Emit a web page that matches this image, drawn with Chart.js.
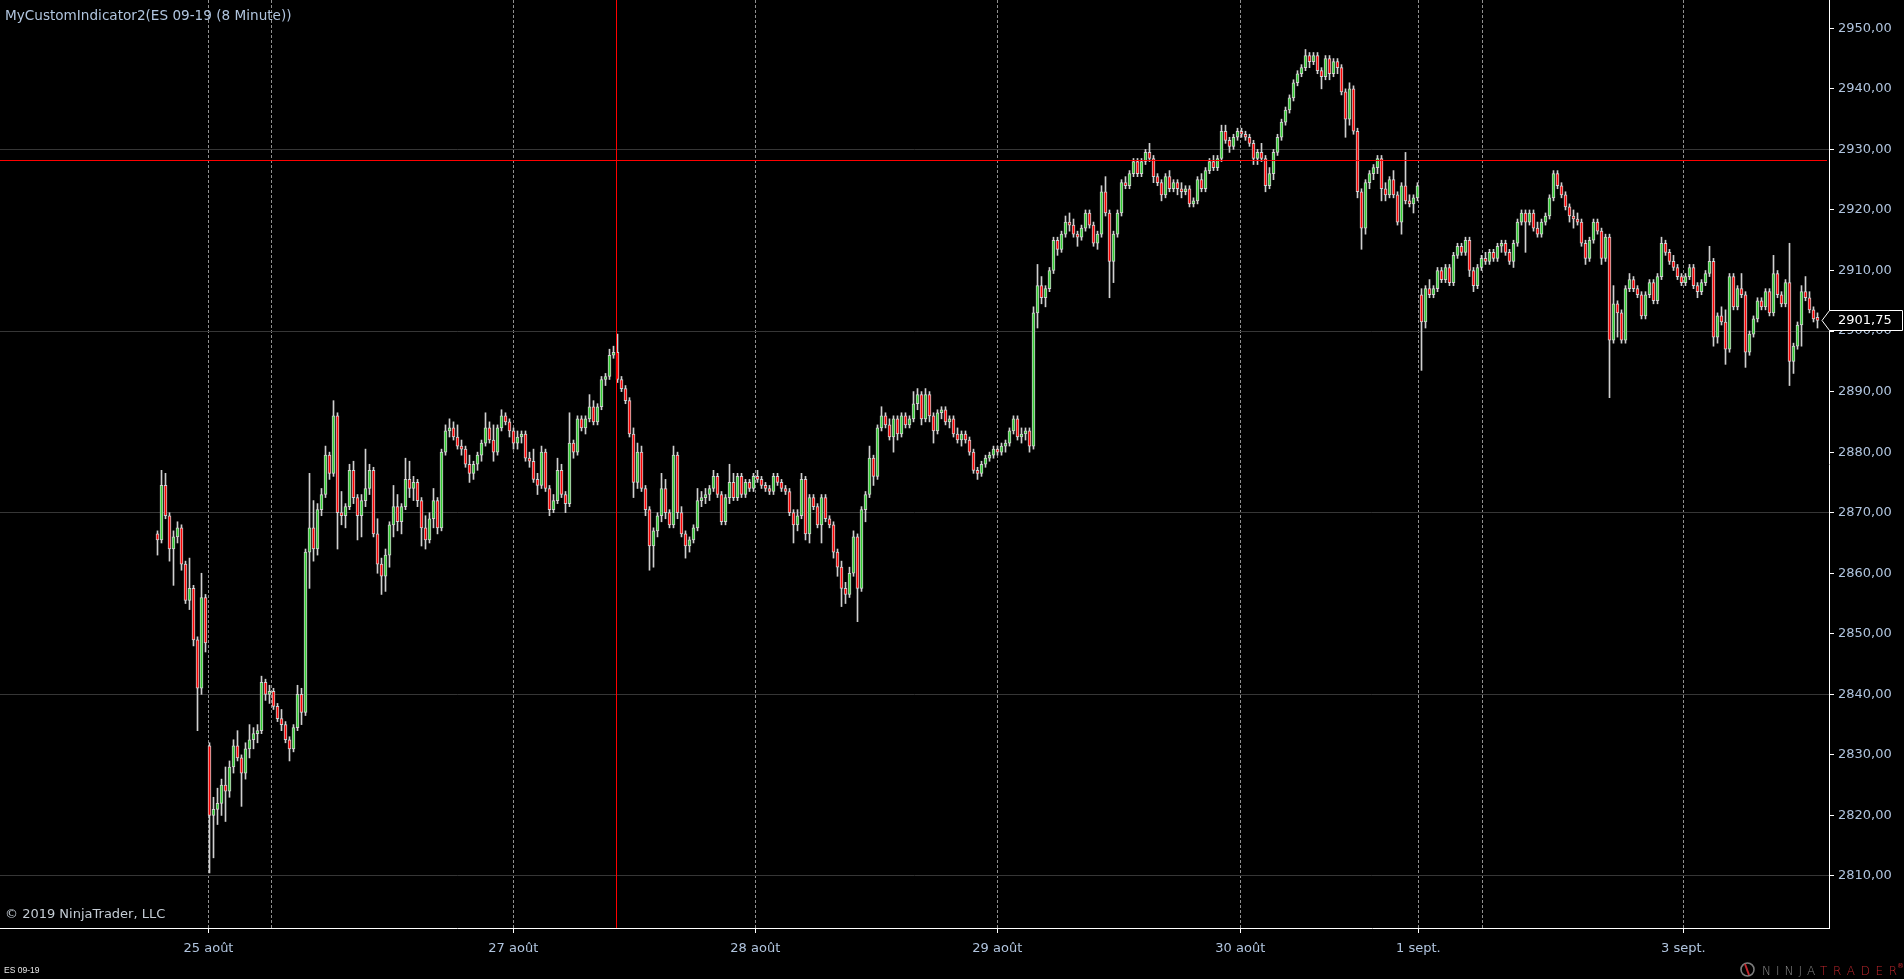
<!DOCTYPE html>
<html>
<head>
<meta charset="utf-8">
<title>MyCustomIndicator2(ES 09-19 (8 Minute))</title>
<script src="https://cdn.jsdelivr.net/npm/chart.js@4.4.1/dist/chart.umd.min.js"></script>
<style>
  html, body { margin: 0; padding: 0; background: #000; overflow: hidden; }
  #myChart { display: block; background: #000; }
</style>
</head>
<body>
<canvas id="myChart" width="1904" height="979"></canvas>
<script>
/* ES 09-19, 8 minute candles */
const opens = [
  2866.5, 2865.5, 2874.5, 2869.5, 2864, 2866, 2867.5, 2861.5, 2855.5, 2857.5,
  2849, 2841, 2856, 2831.5, 2820, 2821, 2822, 2825, 2824, 2828,
  2831.5, 2829.5, 2827, 2831, 2832.5, 2833.5, 2834, 2842, 2840, 2840.5,
  2838, 2836, 2835, 2832.5, 2831, 2834.5, 2840, 2837, 2863.5, 2867.5,
  2864, 2870.5, 2873, 2879.5, 2876.5, 2886, 2870, 2869.5, 2871, 2877,
  2872.5, 2869.5, 2872, 2874, 2877, 2866.5, 2861.5, 2859.5, 2863, 2868,
  2871, 2868.5, 2871, 2875.5, 2874, 2875, 2872, 2867.5, 2865.5, 2869,
  2872, 2867.5, 2880, 2883.5, 2884, 2882.5, 2881, 2880.5, 2878, 2876.5,
  2878, 2879.5, 2881.5, 2884, 2882, 2880, 2884, 2886, 2885, 2883.5,
  2881.5, 2882.5, 2883, 2879, 2878.5, 2875.5, 2874.5, 2880, 2874, 2870.5,
  2872, 2877, 2873, 2871.5, 2881.5, 2880, 2885.5, 2884, 2885.5, 2887.5,
  2885, 2887.5, 2892, 2892.5, 2896, 2896.5, 2892, 2890.5, 2888.5, 2883,
  2875, 2880, 2874, 2870.5, 2864.5, 2867, 2869.5, 2874, 2870, 2868,
  2879.5, 2870, 2866.5, 2864.5, 2865.5, 2867.5, 2872, 2872.5, 2873, 2874,
  2876, 2873, 2868.5, 2872.5, 2875, 2872.5, 2876, 2873, 2875, 2874,
  2876, 2875.5, 2874.5, 2874, 2873.5, 2876, 2875, 2874, 2873.5, 2870,
  2868, 2869.5, 2875.5, 2866.5, 2872.5, 2871, 2868, 2872.5, 2869, 2868,
  2863.5, 2861, 2857.5, 2856.5, 2860, 2866, 2857.5, 2870.5, 2873, 2879,
  2876, 2884, 2886, 2884.5, 2882.5, 2885.5, 2883, 2886, 2884.5, 2885.5,
  2888, 2889.5, 2885.5, 2889.5, 2886, 2883.5, 2886.5, 2887, 2885, 2885.5,
  2883, 2882, 2883, 2882, 2880, 2877, 2876.5, 2878, 2879, 2879.5,
  2880.5, 2880, 2881, 2881.5, 2883.5, 2885.5, 2882.5, 2883, 2883.5, 2881,
  2903, 2907.5, 2905.5, 2907, 2910, 2915, 2913.5, 2916, 2918, 2917.5,
  2916, 2915.5, 2917, 2919.5, 2917.5, 2914.5, 2916, 2923, 2919.5, 2911.5,
  2916, 2919.5, 2924.5, 2924, 2926, 2928, 2926, 2928, 2929.5, 2928.5,
  2925.5, 2924.5, 2922.5, 2925.5, 2923.5, 2924.5, 2923.5, 2923, 2923.5, 2921,
  2921.5, 2925, 2923.5, 2926.5, 2928, 2927, 2928.5, 2933, 2931.5, 2930.5,
  2932, 2933, 2932.5, 2932, 2931, 2928.5, 2929.5, 2928.5, 2924, 2926,
  2929.5, 2932, 2934.5, 2936.5, 2938.5, 2941, 2942.5, 2943.5, 2945.5, 2944.5,
  2945.5, 2943, 2942, 2945, 2942.5, 2944.5, 2943.5, 2939.5, 2935, 2940,
  2933, 2923, 2917, 2924.5, 2926, 2927, 2928.5, 2923.5, 2922.5, 2925,
  2922.5, 2918, 2924, 2921.5, 2921, 2922, 2906, 2901.5, 2907, 2906,
  2907, 2910, 2908.5, 2910.5, 2908, 2912.5, 2914, 2913, 2915, 2910,
  2907.5, 2910.5, 2912, 2911.5, 2913, 2912, 2914, 2914.5, 2913, 2911.5,
  2914.5, 2918, 2919.5, 2918, 2919.5, 2917, 2916, 2918, 2919, 2922,
  2926, 2924, 2922.5, 2920.5, 2919, 2918.5, 2918, 2914.5, 2912, 2915,
  2918, 2916.5, 2912, 2915.5, 2898.5, 2904.5, 2903, 2898.5, 2907, 2908.5,
  2907, 2906, 2902.5, 2906, 2908, 2905, 2909, 2914.5, 2913, 2911.5,
  2910.5, 2909, 2908, 2909, 2910.5, 2907.5, 2906.5, 2908, 2909.5, 2911.5,
  2899, 2902.5, 2901.5, 2897, 2909, 2904, 2907, 2906, 2896.5, 2899.5,
  2902, 2905, 2904, 2906.5, 2903, 2909.5, 2906, 2904.5, 2908, 2895,
  2897.5, 2901, 2906.5, 2905.5, 2903.5, 2902
];
const highs = [
  2867, 2877, 2876.5, 2870, 2867, 2868.5, 2868, 2862, 2862.5, 2858,
  2849.5, 2860, 2856.5, 2832, 2823, 2824.5, 2826, 2828, 2829, 2832.5,
  2834, 2830, 2832, 2835, 2834.5, 2835, 2843, 2842.5, 2841.5, 2841,
  2838.5, 2837.5, 2835.5, 2833, 2835, 2841.5, 2841, 2864, 2876.5, 2872,
  2871.5, 2874, 2881, 2880, 2888.5, 2886.5, 2873.5, 2871.5, 2878, 2878.5,
  2873, 2873, 2880.5, 2878, 2877.5, 2869, 2862.5, 2864, 2868.5, 2874.5,
  2873, 2871.5, 2879, 2878.5, 2876, 2875.5, 2872.5, 2869.5, 2870, 2874,
  2872.5, 2880.5, 2884.5, 2885.5, 2885, 2884.5, 2882, 2881, 2879.5, 2878.5,
  2880, 2882, 2886.5, 2885, 2884.5, 2884.5, 2887, 2886.5, 2885.5, 2884,
  2883.5, 2883.5, 2883.5, 2880, 2880.5, 2876.5, 2881, 2880.5, 2874.5, 2873,
  2879, 2878, 2873.5, 2886.5, 2882, 2886, 2886, 2886, 2889.5, 2888.5,
  2888, 2892.5, 2893, 2897, 2897.5, 2899.5, 2892.5, 2891, 2889, 2884,
  2881.5, 2881, 2874.5, 2871, 2867.5, 2870, 2876.5, 2875.5, 2870.5, 2881,
  2880, 2871, 2867, 2866, 2868, 2874, 2873.5, 2874, 2874.5, 2877,
  2876.5, 2873.5, 2873, 2878, 2876.5, 2876.5, 2876.5, 2875.5, 2875.5, 2876.5,
  2877, 2876, 2875, 2874.5, 2876.5, 2876.5, 2875.5, 2874.5, 2874, 2870.5,
  2870.5, 2876.5, 2876, 2873, 2873, 2871.5, 2873, 2873, 2869.5, 2868.5,
  2864, 2862, 2858.5, 2861, 2867, 2866.5, 2871, 2873.5, 2881, 2879.5,
  2884.5, 2887.5, 2886.5, 2885.5, 2886, 2886, 2886.5, 2886.5, 2886, 2890,
  2890.5, 2890, 2890.5, 2890, 2886.5, 2887, 2887.5, 2887.5, 2886, 2886,
  2884, 2883.5, 2883.5, 2882.5, 2880.5, 2877.5, 2878.5, 2879.5, 2880, 2881,
  2881, 2881.5, 2882, 2884, 2886, 2886, 2884, 2884, 2884, 2904,
  2911, 2909, 2907.5, 2910.5, 2915.5, 2915.5, 2916.5, 2919, 2919.5, 2918.5,
  2916.5, 2917.5, 2920, 2920, 2918, 2916.5, 2924, 2925.5, 2920, 2916.5,
  2920, 2925, 2925.5, 2926.5, 2928.5, 2928.5, 2928.5, 2930, 2931, 2929,
  2926, 2925, 2926, 2926.5, 2925, 2925, 2924.5, 2924, 2924, 2922,
  2925.5, 2926, 2927, 2928.5, 2929, 2929, 2934, 2934, 2932, 2932.5,
  2933.5, 2933.5, 2933, 2932.5, 2931.5, 2930, 2931, 2929, 2927, 2930,
  2932.5, 2935, 2937, 2939, 2941.5, 2943, 2944, 2946.5, 2946, 2946,
  2946, 2943.5, 2945.5, 2945.5, 2945, 2945, 2944, 2940, 2941, 2940.5,
  2933.5, 2923.5, 2925, 2926.5, 2927.5, 2929, 2929, 2924.5, 2925.5, 2926.5,
  2923, 2924.5, 2929.5, 2922.5, 2922.5, 2924.5, 2907, 2907.5, 2908.5, 2907.5,
  2910.5, 2910.5, 2911, 2911, 2913, 2914.5, 2914.5, 2915.5, 2915.5, 2910.5,
  2911, 2912.5, 2913, 2913.5, 2913.5, 2914.5, 2915, 2915, 2913.5, 2915,
  2918.5, 2920, 2920, 2920, 2920, 2918, 2918.5, 2919.5, 2922.5, 2926.5,
  2926.5, 2924.5, 2923, 2921, 2920, 2919.5, 2918.5, 2915, 2915.5, 2918.5,
  2918.5, 2917, 2916, 2916, 2907.5, 2905, 2903.5, 2907.5, 2909.5, 2909,
  2907.5, 2906.5, 2906.5, 2908.5, 2908.5, 2909.5, 2915.5, 2915, 2913.5, 2912.5,
  2911, 2909.5, 2909.5, 2911, 2911, 2908, 2908.5, 2910, 2914, 2912,
  2903, 2904, 2903.5, 2909.5, 2909.5, 2907.5, 2909.5, 2906.5, 2900, 2902.5,
  2905.5, 2905.5, 2907, 2907, 2912.5, 2910, 2906.5, 2908.5, 2914.5, 2898,
  2901.5, 2907.5, 2909, 2906.5, 2904, 2903
];
const lows = [
  2863, 2865, 2869, 2862, 2858, 2865, 2860.5, 2855, 2854, 2848,
  2834, 2840, 2847, 2810.5, 2813, 2818.5, 2820, 2819, 2823, 2827,
  2829, 2821.5, 2826, 2829.5, 2831, 2832, 2833.5, 2839, 2838.5, 2837.5,
  2835.5, 2834, 2832, 2829, 2830.5, 2834, 2835, 2836.5, 2857.5, 2862,
  2863, 2869.5, 2872.5, 2875.5, 2876, 2864, 2868, 2867.5, 2870.5, 2871.5,
  2865.5, 2866, 2871, 2873, 2866, 2860, 2856.5, 2857, 2861, 2866,
  2867, 2866.5, 2870.5, 2872.5, 2872, 2871, 2864.5, 2864, 2865, 2867.5,
  2866.5, 2867, 2879.5, 2882.5, 2882, 2880.5, 2879.5, 2877.5, 2875, 2875.5,
  2877, 2878.5, 2881, 2881.5, 2878.5, 2879.5, 2883.5, 2884.5, 2882.5, 2880.5,
  2880.5, 2881.5, 2878.5, 2877.5, 2875, 2873, 2874, 2873.5, 2869.5, 2870,
  2871.5, 2872.5, 2870, 2871, 2879, 2879.5, 2883.5, 2883, 2885, 2884.5,
  2884.5, 2887, 2891, 2892, 2895.5, 2891.5, 2890, 2888, 2882.5, 2872.5,
  2874, 2873.5, 2869.5, 2860.5, 2861, 2866, 2868.5, 2869, 2867.5, 2867.5,
  2869, 2866, 2862.5, 2863.5, 2865, 2867, 2871, 2871.5, 2872, 2873.5,
  2872.5, 2868, 2868, 2871.5, 2872, 2872, 2872.5, 2872.5, 2873.5, 2873.5,
  2875, 2874, 2873.5, 2873, 2873, 2874.5, 2873.5, 2873, 2869.5, 2865,
  2867, 2869, 2865.5, 2865, 2870.5, 2867.5, 2865, 2868.5, 2867.5, 2862.5,
  2859.5, 2854.5, 2855, 2856, 2859.5, 2852, 2857, 2868.5, 2872.5, 2874.5,
  2875.5, 2883.5, 2884, 2882, 2880, 2882, 2882.5, 2884, 2884, 2885,
  2887, 2884.5, 2885, 2885, 2881.5, 2883, 2885.5, 2884.5, 2884, 2882.5,
  2881.5, 2881, 2881.5, 2879.5, 2876.5, 2875.5, 2876, 2877.5, 2878.5, 2879,
  2879.5, 2879.5, 2880, 2881, 2883, 2882, 2881.5, 2882, 2880, 2880.5,
  2900.5, 2904.5, 2904, 2906.5, 2909.5, 2912.5, 2913, 2915.5, 2916.5, 2915.5,
  2914, 2915, 2916.5, 2917, 2914, 2913.5, 2915.5, 2919, 2905.5, 2908,
  2915.5, 2919, 2923.5, 2923.5, 2925.5, 2925.5, 2925.5, 2927.5, 2928, 2924.5,
  2924, 2921.5, 2922, 2923, 2923, 2922.5, 2922, 2922.5, 2920.5, 2920.5,
  2921, 2923, 2923, 2926, 2926.5, 2926.5, 2928, 2931, 2929.5, 2930,
  2931.5, 2932, 2931.5, 2930.5, 2927.5, 2927.5, 2928, 2923, 2923.5, 2925,
  2929, 2931.5, 2934, 2936, 2938, 2940.5, 2942, 2943, 2943.5, 2944,
  2942.5, 2940, 2941.5, 2941.5, 2942, 2942.5, 2939, 2932, 2934, 2932.5,
  2922, 2913.5, 2916, 2923.5, 2925, 2926, 2921.5, 2921.5, 2922, 2922,
  2917.5, 2916, 2921, 2920.5, 2919.5, 2921.5, 2893.5, 2900.5, 2905.5, 2905.5,
  2906.5, 2908, 2908, 2907.5, 2907.5, 2912, 2912.5, 2912.5, 2909, 2906.5,
  2907, 2910, 2911, 2911, 2911.5, 2911.5, 2913, 2912.5, 2911, 2910.5,
  2914, 2917.5, 2913, 2917.5, 2916.5, 2915.5, 2915.5, 2917.5, 2918.5, 2921.5,
  2923.5, 2922, 2920, 2918, 2917, 2917.5, 2914, 2911, 2911.5, 2914.5,
  2916, 2911, 2911.5, 2889, 2898, 2899, 2898, 2898, 2906.5, 2906.5,
  2905.5, 2902, 2902, 2905.5, 2904.5, 2904.5, 2908.5, 2912.5, 2911, 2910,
  2908.5, 2907.5, 2907.5, 2908.5, 2907, 2905.5, 2906, 2907.5, 2909, 2897.5,
  2898, 2901, 2894.5, 2896.5, 2903.5, 2903.5, 2905.5, 2894, 2896, 2899,
  2901.5, 2903.5, 2903.5, 2902.5, 2902.5, 2905.5, 2904, 2904, 2891, 2893,
  2897, 2897.5, 2905, 2903, 2901.5, 2900.5
];
const closes = [
  2865.5, 2874.5, 2869.5, 2864, 2866, 2867.5, 2861.5, 2855.5, 2857.5, 2849,
  2841, 2856, 2848.5, 2820, 2821, 2822, 2825, 2824, 2828, 2831.5,
  2829.5, 2827, 2831, 2832.5, 2833.5, 2834, 2842, 2840, 2840.5, 2838,
  2836, 2835, 2832.5, 2831, 2834.5, 2840, 2837, 2863.5, 2867.5, 2864,
  2870.5, 2873, 2879.5, 2876.5, 2886, 2870, 2869.5, 2871, 2877, 2872.5,
  2869.5, 2872, 2874, 2877, 2866.5, 2861.5, 2859.5, 2863, 2868, 2871,
  2868.5, 2871, 2875.5, 2874, 2875, 2872, 2867.5, 2865.5, 2869, 2872,
  2867.5, 2880, 2883.5, 2884, 2882.5, 2881, 2880.5, 2878, 2876.5, 2878,
  2879.5, 2881.5, 2884, 2882, 2880, 2884, 2886, 2885, 2883.5, 2881.5,
  2882.5, 2883, 2879, 2878.5, 2875.5, 2874.5, 2880, 2874, 2870.5, 2872,
  2877, 2873, 2871.5, 2881.5, 2880, 2885.5, 2884, 2885.5, 2887.5, 2885,
  2887.5, 2892, 2892.5, 2896, 2896.5, 2892, 2890.5, 2888.5, 2883, 2875,
  2880, 2874, 2870.5, 2864.5, 2867, 2869.5, 2874, 2870, 2868, 2879.5,
  2870, 2866.5, 2864.5, 2865.5, 2867.5, 2872, 2872.5, 2873, 2874, 2876,
  2873, 2868.5, 2872.5, 2875, 2872.5, 2876, 2873, 2875, 2874, 2876,
  2875.5, 2874.5, 2874, 2873.5, 2876, 2875, 2874, 2873.5, 2870, 2868,
  2869.5, 2875.5, 2866.5, 2872.5, 2871, 2868, 2872.5, 2869, 2868, 2863.5,
  2861, 2857.5, 2856.5, 2860, 2866, 2857.5, 2870.5, 2873, 2879, 2876,
  2884, 2886, 2884.5, 2882.5, 2885.5, 2883, 2886, 2884.5, 2885.5, 2888,
  2889.5, 2885.5, 2889.5, 2886, 2883.5, 2886.5, 2887, 2885, 2885.5, 2883,
  2882, 2883, 2882, 2880, 2877, 2876.5, 2878, 2879, 2879.5, 2880.5,
  2880, 2881, 2881.5, 2883.5, 2885.5, 2882.5, 2883, 2883.5, 2881, 2903,
  2907.5, 2905.5, 2907, 2910, 2915, 2913.5, 2916, 2918, 2917.5, 2916,
  2915.5, 2917, 2919.5, 2917.5, 2914.5, 2916, 2923, 2919.5, 2911.5, 2916,
  2919.5, 2924.5, 2924, 2926, 2928, 2926, 2928, 2929.5, 2928.5, 2925.5,
  2924.5, 2922.5, 2925.5, 2923.5, 2924.5, 2923.5, 2923, 2923.5, 2921, 2921.5,
  2925, 2923.5, 2926.5, 2928, 2927, 2928.5, 2933, 2931.5, 2930.5, 2932,
  2933, 2932.5, 2932, 2931, 2928.5, 2929.5, 2928.5, 2924, 2926, 2929.5,
  2932, 2934.5, 2936.5, 2938.5, 2941, 2942.5, 2943.5, 2945.5, 2944.5, 2945.5,
  2943, 2942, 2945, 2942.5, 2944.5, 2943.5, 2939.5, 2935, 2940, 2933,
  2923, 2917, 2924.5, 2926, 2927, 2928.5, 2923.5, 2922.5, 2925, 2922.5,
  2918, 2924, 2921.5, 2921, 2922, 2924, 2901.5, 2907, 2906, 2907,
  2910, 2908.5, 2910.5, 2908, 2912.5, 2914, 2913, 2915, 2910, 2907.5,
  2910.5, 2912, 2911.5, 2913, 2912, 2914, 2914.5, 2913, 2911.5, 2914.5,
  2918, 2919.5, 2918, 2919.5, 2917, 2916, 2918, 2919, 2922, 2926,
  2924, 2922.5, 2920.5, 2919, 2918.5, 2918, 2914.5, 2912, 2915, 2918,
  2916.5, 2912, 2915.5, 2898.5, 2904.5, 2903, 2898.5, 2907, 2908.5, 2907,
  2906, 2902.5, 2906, 2908, 2905, 2909, 2914.5, 2913, 2911.5, 2910.5,
  2909, 2908, 2909, 2910.5, 2907.5, 2906.5, 2908, 2909.5, 2911.5, 2899,
  2902.5, 2901.5, 2897, 2909, 2904, 2907, 2906, 2896.5, 2899.5, 2902,
  2905, 2904, 2906.5, 2903, 2909.5, 2906, 2904.5, 2908, 2895, 2897.5,
  2901, 2906.5, 2905.5, 2903.5, 2902, 2901.75
];

// session breaks (bar positions) and their date labels, '' = line only
const dayTicks = [12.75, 28.45, 88.95, 149.45, 209.95, 270.7, 315.2, 331.2, 381.45];
const dayLabels = ['25 août', '', '27 août', '28 août', '29 août', '30 août', '1 sept.', '', '3 sept.'];

const priceTicks = [2810, 2820, 2830, 2840, 2850, 2860, 2870, 2880, 2890, 2900, 2910, 2920, 2930, 2940, 2950];
const priceGrid = [2810, 2840, 2870, 2900, 2930];
const lineLevel = 2928.25;   // red horizontal line
const markerBar = 114.7;     // red vertical line

Chart.defaults.font.family = '"DejaVu Sans", Verdana, sans-serif';

const upColor = '#32cd32';
const downColor = '#ff0000';
const wickColor = '#cfcfcf';
const labelColor = '#b0c4de';

const wicks = closes.map((c, i) => ({ x: i, y: [lows[i], highs[i]] }));
const bodies = closes.map((c, i) => ({ x: i, y: [opens[i], c] }));
const bodyColors = closes.map((c, i) => c > opens[i] ? upColor : (c < opens[i] ? downColor : wickColor));

/* texts, red lines, price marker */
const overlay = {
    id: 'overlay',
    afterDatasetsDraw(chart) {
        const { ctx, chartArea, scales } = chart;
        ctx.save();
        ctx.fillStyle = '#ff0000';
        const ly = Math.round(scales.y.getPixelForValue(lineLevel));
        ctx.fillRect(chartArea.left, ly, chartArea.right - chartArea.left - 2, 1);
        const mx = Math.floor(scales.x.getPixelForValue(markerBar));
        ctx.fillRect(mx, chartArea.top, 1, chartArea.bottom - chartArea.top);
        ctx.restore();
    },
    afterDraw(chart) {
        const { ctx, chartArea, scales } = chart;
        ctx.save();
        ctx.textBaseline = 'alphabetic';
        ctx.textAlign = 'left';

        ctx.fillStyle = labelColor;
        ctx.font = '13.6px "DejaVu Sans"';
        ctx.fillText('MyCustomIndicator2(ES 09-19 (8 Minute))', 5, 20);

        ctx.fillStyle = '#c4ccd4';
        ctx.font = '13px "DejaVu Sans"';
        ctx.fillText('\u00a9 2019 NinjaTrader, LLC', 5, 918);

        ctx.fillStyle = '#e6e6e6';
        ctx.font = '8.5px "Liberation Sans"';
        ctx.fillText('ES 09-19', 4, 973);

        // last price marker
        const last = closes[closes.length - 1];
        const py = Math.round(scales.y.getPixelForValue(last));
        const bx = chartArea.right;
        ctx.beginPath();
        ctx.moveTo(bx - 7, py + 0.5);
        ctx.lineTo(bx + 0.5, py - 9.5);
        ctx.lineTo(1902.5, py - 9.5);
        ctx.lineTo(1902.5, py + 10.5);
        ctx.lineTo(bx + 0.5, py + 10.5);
        ctx.closePath();
        ctx.fillStyle = '#000';
        ctx.fill();
        ctx.strokeStyle = '#ffffff';
        ctx.lineWidth = 1;
        ctx.stroke();
        ctx.fillStyle = '#ffffff';
        ctx.font = '13px "DejaVu Sans"';
        ctx.textBaseline = 'middle';
        ctx.fillText(last.toFixed(2).replace('.', ','), bx + 9, py + 1);

        // logo
        ctx.textBaseline = 'alphabetic';
        ctx.lineWidth = 1.6;
        ctx.strokeStyle = '#7d7d7d';
        ctx.beginPath();
        ctx.arc(1747.5, 969.5, 6.5, 0, Math.PI * 2);
        ctx.stroke();
        ctx.strokeStyle = '#c1272d';
        ctx.lineWidth = 2;
        ctx.beginPath();
        ctx.moveTo(1745, 964);
        ctx.lineTo(1749, 975);
        ctx.stroke();
        ctx.font = '200 12px "DejaVu Sans"';
        let lx = 1762;
        ctx.fillStyle = '#8a8a8a';
        for (const ch of 'NINJA') {
            ctx.fillText(ch, lx, 974.5);
            lx += ctx.measureText(ch).width + 5;
        }
        lx = 1820;
        ctx.fillStyle = '#c1272d';
        for (const ch of 'TRADER') {
            ctx.fillText(ch, lx, 974.5);
            lx += ctx.measureText(ch).width + 5.6;
        }
        ctx.font = '7px "DejaVu Sans"';
        ctx.fillText('\u00ae', 1897, 968);
        ctx.restore();
    }
};

const myChart = new Chart(document.getElementById('myChart'), {
    type: 'bar',
    data: {
        datasets: [{
            label: 'wick',
            data: wicks,
            backgroundColor: wickColor,
            barThickness: 1,
            grouped: false,
            order: 2
        }, {
            label: 'body',
            data: bodies,
            backgroundColor: bodyColors,
            borderColor: wickColor,
            borderWidth: 1,
            borderSkipped: false,
            barThickness: 3,
            minBarLength: 3,
            grouped: false,
            order: 1
        }]
    },
    options: {
        responsive: false,
        animation: false,
        events: [],
        layout: { padding: 0 },
        plugins: {
            legend: { display: false },
            tooltip: { enabled: false }
        },
        scales: {
            x: {
                type: 'linear',
                min: -39.375,
                max: 417.875,
                offset: false,
                afterBuildTicks: (s) => { s.ticks = dayTicks.map(v => ({ value: v })); },
                afterFit: (s) => { s.height = 51; s.paddingLeft = 0; s.paddingRight = 0; },
                grid: {
                    offset: false,
                    color: '#8f8f8f',
                    lineWidth: 1,
                    drawTicks: true,
                    tickLength: 5,
                    tickWidth: 1,
                    tickBorderDash: [],
                    tickColor: (c) => dayLabels[c.index] ? '#ffffff' : 'rgba(0,0,0,0)'
                },
                border: { display: true, color: '#ffffff', width: 1, dash: [3, 2] },
                ticks: {
                    autoSkip: false,
                    maxRotation: 0,
                    minRotation: 0,
                    padding: 8,
                    color: labelColor,
                    font: { size: 13 },
                    callback: (v, i) => dayLabels[i]
                }
            },
            y: {
                type: 'linear',
                position: 'right',
                min: 2801.41,
                max: 2954.674,
                beginAtZero: false,
                afterBuildTicks: (s) => { s.ticks = priceTicks.map(v => ({ value: v })); },
                afterFit: (s) => { s.width = 75; s.paddingTop = 0; s.paddingBottom = 0; },
                grid: {
                    color: (c) => (c.tick && priceGrid.includes(c.tick.value)) ? '#363636' : 'rgba(0,0,0,0)',
                    lineWidth: 1,
                    drawTicks: true,
                    tickLength: 5,
                    tickColor: '#ffffff'
                },
                border: { display: true, color: '#ffffff', width: 1 },
                ticks: {
                    autoSkip: false,
                    padding: 4,
                    color: labelColor,
                    font: { size: 13 },
                    callback: (v) => v.toFixed(2).replace('.', ',')
                }
            }
        }
    },
    plugins: [overlay]
});
</script>
</body>
</html>
